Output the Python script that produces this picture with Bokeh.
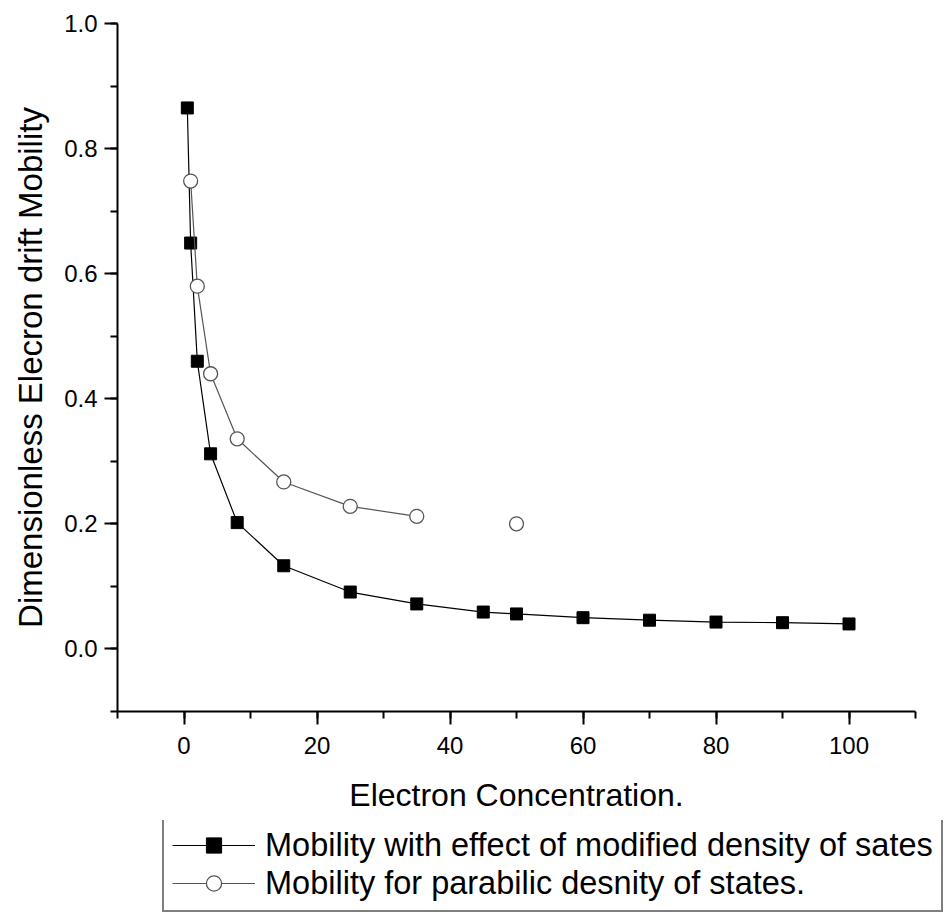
from bokeh.plotting import figure
from bokeh.layouts import column, row
from bokeh.models import (Range1d, SingleIntervalTicker, PrintfTickFormatter,
                          Legend, LegendItem)
from bokeh.embed import file_html
from bokeh.resources import INLINE

# ---- data ----
mod_x = [0.5, 1, 2, 4, 8, 15, 25, 35, 45, 50, 60, 70, 80, 90, 100]
mod_y = [0.865, 0.649, 0.46, 0.312, 0.202, 0.133, 0.091, 0.072, 0.059,
         0.056, 0.050, 0.046, 0.043, 0.042, 0.040]
par_x = [1, 2, 4, 8, 15, 25, 35, 50]
par_y = [0.748, 0.58, 0.44, 0.336, 0.267, 0.228, 0.212, 0.200]
par_connected = 7  # the last circle (x=50) is not joined by the line

x_title = "Electron Concentration."
y_title = "Dimensionless Elecron drift Mobility"
mod_label = "Mobility with effect of modified density of sates"
par_label = "Mobility for parabilic desnity of states."

FONT = "Liberation Sans"
gray = "#555555"
MOD_STYLE = dict(line=dict(line_color="black", line_width=1.2),
                 mark=dict(marker="square", size=12, fill_color="black",
                           line_color="black"))
PAR_STYLE = dict(line=dict(line_color=gray, line_width=1.2),
                 mark=dict(marker="circle", size=14, fill_color="white",
                           line_color=gray, line_width=1.3))

# ---------------- main chart ----------------
p = figure(width=948, height=820, output_backend="svg", toolbar_location=None,
           x_range=Range1d(-10, 110), y_range=Range1d(-0.1, 1.0),
           min_border_left=117, min_border_right=33, min_border_top=23,
           min_border_bottom=109)
p.outline_line_color = None
p.xgrid.visible = False
p.ygrid.visible = False
p.background_fill_color = "white"
p.border_fill_color = "white"

for ax in (p.xaxis[0], p.yaxis[0]):
    ax.axis_line_width = 2
    ax.axis_line_color = "black"
    ax.major_tick_line_width = 2
    ax.minor_tick_line_width = 2
    ax.major_tick_in = 0
    ax.major_tick_out = 13
    ax.minor_tick_in = 0
    ax.minor_tick_out = 7
    ax.major_label_text_font = FONT
    ax.major_label_text_font_size = "24px"
    ax.major_label_text_color = "black"
    ax.axis_label_text_font = FONT
    ax.axis_label_text_font_size = "32px"
    ax.axis_label_text_font_style = "normal"
    ax.axis_label_text_color = "black"

p.yaxis.axis_label_text_font_size = "33px"
p.xaxis.ticker = SingleIntervalTicker(interval=20, num_minor_ticks=2)
p.yaxis.ticker = SingleIntervalTicker(interval=0.2, num_minor_ticks=2)
p.yaxis.formatter = PrintfTickFormatter(format="%.1f")
p.xaxis.major_label_standoff = 12
p.yaxis.major_label_standoff = 7
p.xaxis.axis_label = x_title
p.yaxis.axis_label = y_title
p.xaxis.axis_label_standoff = 20
p.yaxis.axis_label_standoff = 12

l1 = p.line(mod_x, mod_y, **MOD_STYLE["line"])
s1 = p.scatter(mod_x, mod_y, **MOD_STYLE["mark"])
l2 = p.line(par_x[:par_connected], par_y[:par_connected], **PAR_STYLE["line"])
s2 = p.scatter(par_x, par_y, **PAR_STYLE["mark"])

# ---------------- legend strip below the chart ----------------
# same series, drawn outside this strip's visible range: only the legend shows
q = figure(width=948, height=93, output_backend="svg", toolbar_location=None,
           x_range=Range1d(1000, 1001), y_range=Range1d(1000, 1001),
           x_axis_location=None, y_axis_location=None,
           min_border=0, min_border_left=0, min_border_right=0,
           min_border_top=0, min_border_bottom=0)
q.outline_line_color = None
q.xgrid.visible = False
q.ygrid.visible = False
q.border_fill_color = "white"
q.background_fill_color = "white"

k1 = q.line(mod_x, mod_y, **MOD_STYLE["line"])
k1m = q.scatter(mod_x, mod_y, **MOD_STYLE["mark"])
k2 = q.line(par_x[:par_connected], par_y[:par_connected], **PAR_STYLE["line"])
k2m = q.scatter(par_x, par_y, **PAR_STYLE["mark"])

legend = Legend(items=[LegendItem(label=mod_label, renderers=[k1, k1m]),
                       LegendItem(label=par_label, renderers=[k2, k2m])],
                location=(162, 1))
legend.label_text_font = FONT
legend.label_text_font_size = "32.5px"
legend.label_text_color = "black"
legend.glyph_width = 83
legend.glyph_height = 38
legend.label_height = 38
legend.label_standoff = 10
legend.spacing = 0
legend.padding = 8
legend.margin = 0
legend.border_line_color = "black"
legend.border_line_width = 2
legend.background_fill_alpha = 0
q.add_layout(legend, "center")

layout = column(p, row(q), spacing=0)
open("out.html", "w").write(file_html(layout, INLINE))
